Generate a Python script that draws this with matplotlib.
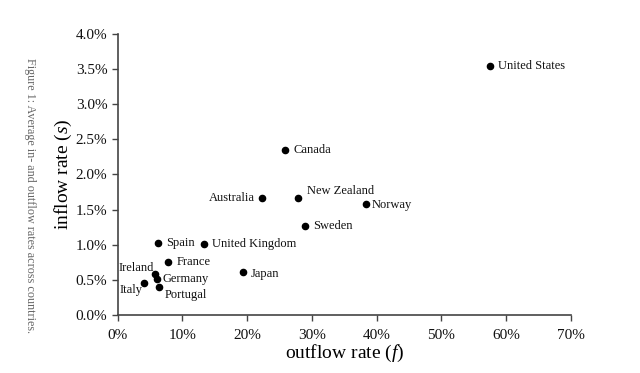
import matplotlib
matplotlib.use("Agg")
import matplotlib.pyplot as plt
from matplotlib.ticker import FuncFormatter, MultipleLocator

# Werte (Prozent)
laender = ["United States", "Canada", "Australia", "New Zealand", "Norway",
           "Sweden", "Spain", "United Kingdom", "France", "Japan",
           "Ireland", "Germany", "Italy", "Portugal"]
outflow = [57.5, 25.8, 22.3, 27.9, 38.4, 28.9, 6.2, 13.3, 7.8, 19.3, 5.8, 6.0, 4.1, 6.4]
inflow = [3.55, 2.35, 1.66, 1.67, 1.58, 1.27, 1.02, 1.01, 0.76, 0.61, 0.59, 0.51, 0.46, 0.40]

# Beschriftungsversatz in Punkten, (dx, dy, ausrichtung)
versatz = {
    "United States": (6, 0, "left"),
    "Canada": (6, 0, "left"),
    "Australia": (-5, 0, "right"),
    "New Zealand": (6, 5, "left"),
    "Norway": (4, -1, "left"),
    "Sweden": (6, 0, "left"),
    "Spain": (6, 0, "left"),
    "United Kingdom": (6, 0, "left"),
    "France": (6, 0, "left"),
    "Japan": (6, -1, "left"),
    "Ireland": (-1, 4, "right"),
    "Germany": (4, 0, "left"),
    "Italy": (-1, -5, "right"),
    "Portugal": (4, -6, "left"),
}

plt.rcParams["font.family"] = ["Liberation Serif", "DejaVu Serif"]
plt.rcParams["mathtext.fontset"] = "custom"
plt.rcParams["mathtext.rm"] = "Liberation Serif"
plt.rcParams["mathtext.it"] = "Liberation Serif:italic"

fig = plt.figure(figsize=(6.4, 3.73), dpi=100)
ax = fig.add_axes([0.184, 0.1555, 0.708, 0.7535])

ax.scatter(outflow, inflow, s=20, color="black", zorder=3)
for name, x, y in zip(laender, outflow, inflow):
    dx, dy, ha = versatz[name]
    ax.annotate(name, (x, y), xytext=(dx, dy), textcoords="offset points",
                ha=ha, va="center", fontsize=9, color="#111111")

ax.set_xlim(0, 70)
ax.set_ylim(0, 4.0)
ax.xaxis.set_major_locator(MultipleLocator(10))
ax.yaxis.set_major_locator(MultipleLocator(0.5))
ax.xaxis.set_major_formatter(FuncFormatter(lambda v, p: f"{v:.0f}%"))
ax.yaxis.set_major_formatter(FuncFormatter(lambda v, p: f"{v:.1f}%"))

for s in ["top", "right"]:
    ax.spines[s].set_visible(False)
for s in ["left", "bottom"]:
    ax.spines[s].set_color("#444444")
    ax.spines[s].set_linewidth(1.2)
ax.tick_params(axis="both", direction="out", length=4, width=1.0,
               color="#444444", labelsize=11, labelcolor="#111111")
ax.tick_params(axis="x", pad=6)

ax.set_xlabel("outflow rate ($\\mathit{f}$)", fontsize=14, labelpad=1)
ax.set_ylabel("inflow rate ($\\mathit{s}$)", fontsize=14, labelpad=1)

fig.text(0.047, 0.475, "Figure 1: Average in- and outflow rates across countries.",
         rotation=270, ha="center", va="center", fontsize=8.7, color="#666666")

fig.savefig("out.png", dpi=100)
